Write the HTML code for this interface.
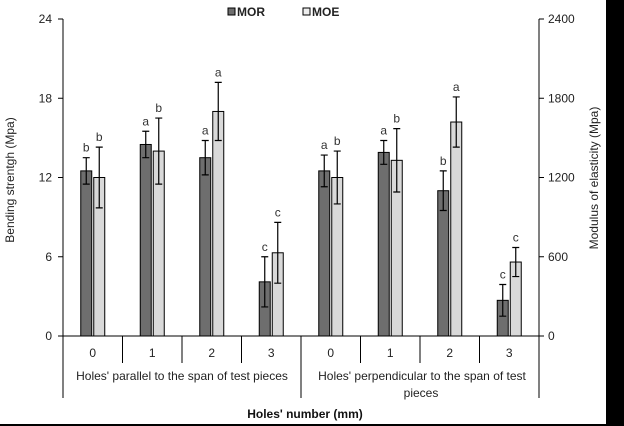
<!DOCTYPE html>
<html><head><meta charset="utf-8"><style>
body{margin:0;background:#fff;width:624px;height:426px;position:relative;overflow:hidden;}
svg{display:block;font-family:"Liberation Sans",sans-serif;}
#strip{position:absolute;left:606px;top:0;width:18px;height:426px;background:#000;}
</style></head><body>
<svg id="c" width="624" height="426" viewBox="0 0 624 426" xmlns="http://www.w3.org/2000/svg">
<rect x="0" y="0" width="624" height="426" fill="#fff"/>
<rect x="606" y="0" width="18" height="426" fill="#000"/>
<rect x="0" y="424" width="624" height="2" fill="#000"/>
<g id="plot"></g>
</svg>
<div id="strip"></div>
<script>
const categories=["0","1","2","3","0","1","2","3"];
const groups=["Holes' parallel to the span of test pieces","Holes' perpendicular to the span of test"];
const morValues=[12.5,14.5,13.5,4.1,12.5,13.9,11.0,2.7];
const morErrors=[1.0,1.0,1.3,1.9,1.2,0.9,1.5,1.2];
const morLetters=["b","a","a","c","a","a","b","c"];
const moeValues=[1200,1400,1700,630,1200,1330,1620,560];
const moeErrors=[230,250,220,230,200,240,190,110];
const moeLetters=["b","b","a","c","b","b","a","c"];
const leftTicks=[0,6,12,18,24];
const rightTicks=[0,600,1200,1800,2400];

const NS="http://www.w3.org/2000/svg";
const g=document.getElementById('plot');
const X0=63,X1=539,Y0=336,Y1=19;
const yL=v=>Y0-(v/24)*(Y0-Y1);
const yR=v=>Y0-(v/2400)*(Y0-Y1);
const bw=(X1-X0)/categories.length;
const cx=i=>X0+bw*(i+0.5);
function el(t,a,txt){const e=document.createElementNS(NS,t);for(const k in a)e.setAttribute(k,a[k]);if(txt!==undefined)e.textContent=txt;g.appendChild(e);return e;}

let e=el('line',{x1:X0,y1:Y1,x2:X0,y2:398,stroke:'#000'});


e=el('line',{x1:X1,y1:Y1,x2:X1,y2:398,stroke:'#000'});


e=el('line',{x1:X0,y1:Y0,x2:X1,y2:Y0,stroke:'#000'});



leftTicks.forEach(v=>{
  const y=yL(v);
  let t=el('line',{x1:X0-5,y1:y,x2:X0,y2:y,stroke:'#000'});
  
  
  t=el('text',{x:52,y:y+4,'text-anchor':'end','font-size':12,fill:'#222'},String(v));
  
  
});
rightTicks.forEach(v=>{
  const y=yR(v);
  let t=el('line',{x1:X1,y1:y,x2:X1+5,y2:y,stroke:'#000'});
  
  
  t=el('text',{x:548,y:y+4,'text-anchor':'start','font-size':12,fill:'#222'},String(v));
  
  
});

function errbar(x,top,bot,name){
  const p=el('path',{d:`M${x},${top}V${bot}M${x-3.5},${top}H${x+3.5}M${x-3.5},${bot}H${x+3.5}`,stroke:'#000','stroke-width':1.2,fill:'none'});
  
  
}
categories.forEach((c,i)=>{
  const m=cx(i);
  const xa=m-12,ya=yL(morValues[i]);
  let r=el('rect',{x:xa,y:ya,width:11,height:Y0-ya,fill:'#6e6e6e',stroke:'#000','stroke-width':1});
  
  
  errbar(xa+5.5,yL(morValues[i]+morErrors[i]),yL(morValues[i]-morErrors[i]),'mor-error-bar');
  let t=el('text',{x:xa+5.5,y:yL(morValues[i]+morErrors[i])-6,'text-anchor':'middle','font-size':12,fill:'#333'},morLetters[i]);
  
  
  const xb=m+1,yb=yR(moeValues[i]);
  r=el('rect',{x:xb,y:yb,width:11,height:Y0-yb,fill:'#d9d9d9',stroke:'#000','stroke-width':1});
  
  
  errbar(xb+5.5,yR(moeValues[i]+moeErrors[i]),yR(moeValues[i]-moeErrors[i]),'moe-error-bar');
  t=el('text',{x:xb+5.5,y:yR(moeValues[i]+moeErrors[i])-6,'text-anchor':'middle','font-size':12,fill:'#333'},moeLetters[i]);
  
  
  t=el('text',{x:m,y:357,'text-anchor':'middle','font-size':12,fill:'#222'},c);
  
  
  if(i>0){
    const dx=X0+bw*i;
    const l=el('line',{x1:dx,y1:Y0,x2:dx,y2:(i===4?398:363),stroke:'#000'});
    
    
  }
});
groups.forEach((gname,k)=>{
  const m=X0+(X1-X0)*(k*2+1)/4;
  const t=el('text',{x:m+(k?2:0),y:380,'text-anchor':'middle','font-size':12,fill:'#222'},gname);
  
  
});
e=el('text',{x:421,y:397,'text-anchor':'middle','font-size':12,fill:'#222'},'pieces');


e=el('text',{x:305,y:418,'text-anchor':'middle','font-size':12,'font-weight':'bold',fill:'#111'},"Holes' number (mm)");


e=el('text',{x:0,y:0,'text-anchor':'middle','font-size':12,fill:'#222',transform:'translate(14,180) rotate(-90)'},'Bending  strentgh (Mpa)');


e=el('text',{x:0,y:0,'text-anchor':'middle','font-size':12,fill:'#222',transform:'translate(598,178) rotate(-90)'},'Modulus of elasticity (Mpa)');


e=el('rect',{x:228,y:8,width:7,height:7,fill:'#6e6e6e',stroke:'#000'});


e=el('text',{x:237,y:16,'font-size':12,'font-weight':'bold',fill:'#222'},'MOR');


e=el('rect',{x:303,y:8,width:7,height:7,fill:'#eee',stroke:'#000'});


e=el('text',{x:312,y:16,'font-size':12,'font-weight':'bold',fill:'#222'},'MOE');


</script>
</body></html>
